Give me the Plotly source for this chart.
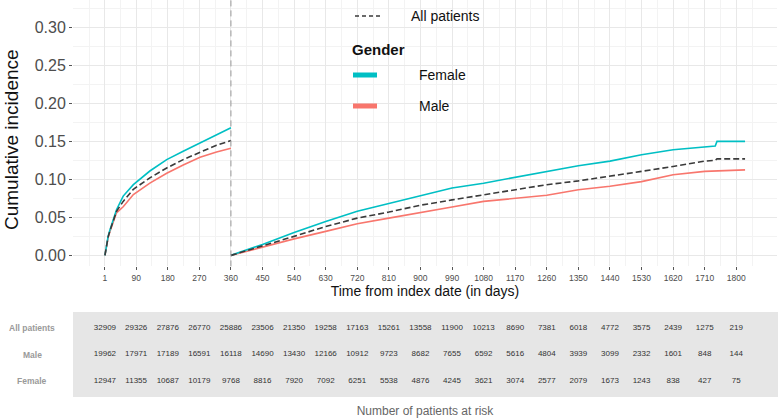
import plotly.graph_objects as go

# ---------------- data ----------------
landmark_day = 360

days_y1 = [1, 5, 10, 15, 25, 34, 53, 82, 129, 177, 224, 272, 319, 360]
female_y1 = [0, 0.014, 0.025, 0.033, 0.048, 0.060, 0.078, 0.093, 0.111, 0.126, 0.137, 0.148, 0.159, 0.168]
all_y1 = [0, 0.013, 0.024, 0.032, 0.046, 0.058, 0.071, 0.087, 0.102, 0.115, 0.126, 0.136, 0.145, 0.151]
male_y1 = [0, 0.013, 0.023, 0.031, 0.045, 0.056, 0.064, 0.080, 0.095, 0.108, 0.119, 0.129, 0.136, 0.141]

days_y2 = [360, 450, 540, 630, 720, 810, 900, 990, 1080, 1170, 1260, 1350, 1440, 1530, 1620, 1710, 1740, 1745, 1800, 1825]
female_y2 = [0, 0.0144, 0.030, 0.0447, 0.058, 0.068, 0.079, 0.0886, 0.095, 0.103, 0.1105, 0.118, 0.124, 0.1325, 0.139, 0.143, 0.144, 0.150, 0.150, 0.150]
all_y2 = [0, 0.0122, 0.025, 0.038, 0.049, 0.057, 0.066, 0.073, 0.080, 0.0865, 0.093, 0.098, 0.104, 0.1105, 0.117, 0.124, 0.125, 0.127, 0.127, 0.127]
male_y2 = [0, 0.0109, 0.0217, 0.0316, 0.0415, 0.049, 0.056, 0.0636, 0.071, 0.075, 0.079, 0.0864, 0.091, 0.097, 0.106, 0.1105, 0.111, 0.112, 0.1125, 0.1125]

x_ticks = [1, 90, 180, 270, 360, 450, 540, 630, 720, 810, 900, 990, 1080, 1170,
           1260, 1350, 1440, 1530, 1620, 1710, 1800]
y_ticks = [0, 0.05, 0.10, 0.15, 0.20, 0.25, 0.30]

risk_rows = ["All patients", "Male", "Female"]
risk_all = [32909, 29326, 27876, 26770, 25886, 23506, 21350, 19258, 17163, 15261, 13558,
            11900, 10213, 8690, 7381, 6018, 4772, 3575, 2439, 1275, 219]
risk_male = [19962, 17971, 17189, 16591, 16118, 14690, 13430, 12166, 10912, 9723, 8682,
             7655, 6592, 5616, 4804, 3939, 3099, 2332, 1601, 848, 144]
risk_female = [12947, 11355, 10687, 10179, 9768, 8816, 7920, 7092, 6251, 5538, 4876,
               4245, 3621, 3074, 2577, 2079, 1673, 1243, 838, 427, 75]

legend_labels = ["All patients", "Female", "Male"]
legend_title = "Gender"

# ---------------- styles ----------------
TEAL = "#00BFC4"
SALMON = "#F8766D"
DARK = "#3a3a3a"
FONT = "Liberation Sans, Arial, Helvetica, sans-serif"
W, H = 778, 418
ML, MR = 73, 1
PW = W - ML - MR


def px_x(x):  # page pixel -> paper x
    return (x - ML) / PW


def px_y(y):  # page pixel -> paper y
    return 1 - y / H


fig = go.Figure()


def add_curve(x, y, color, dash, width):
    fig.add_trace(go.Scatter(x=x, y=y, mode="lines", showlegend=False, hoverinfo="skip",
                             line=dict(color=color, dash=dash, width=width),
                             xaxis="x", yaxis="y"))


add_curve(days_y1, male_y1, SALMON, "solid", 1.6)
add_curve(days_y2, male_y2, SALMON, "solid", 1.6)
add_curve(days_y1, female_y1, TEAL, "solid", 1.6)
add_curve(days_y2, female_y2, TEAL, "solid", 1.6)
add_curve(days_y1, all_y1, DARK, "6px,3px", 1.6)
add_curve(days_y2, all_y2, DARK, "6px,3px", 1.6)

# risk table
for row, vals in zip(risk_rows, [risk_all, risk_male, risk_female]):
    fig.add_trace(go.Scatter(x=x_ticks, y=[row] * len(x_ticks), text=[str(v) for v in vals],
                             mode="text", textfont=dict(size=8, color="#333", family=FONT),
                             showlegend=False, hoverinfo="skip", xaxis="x2", yaxis="y2"))

# landmark line
fig.add_shape(type="line", xref="x", yref="y domain", x0=landmark_day, x1=landmark_day,
              y0=0, y1=1, line=dict(color="#9a9a9a", width=1, dash="6px,4px"))
# table background
fig.add_shape(type="rect", xref="x2 domain", yref="y2 domain", x0=0, x1=1.01, y0=0, y1=1,
              fillcolor="#e6e6e6", line=dict(width=0), layer="below")

for row in risk_rows:
    fig.add_annotation(x=px_x(32), xref="paper", y=row, yref="y2", text=f"<b>{row}</b>",
                       showarrow=False, xanchor="center",
                       font=dict(size=8.5, color="#9a9a9a", family=FONT))

# y axis title
fig.add_annotation(x=px_x(11), xref="paper", y=px_y(140), yref="paper",
                   text="Cumulative incidence", textangle=-90, showarrow=False,
                   xanchor="center", yanchor="middle",
                   font=dict(size=19, color="#111", family=FONT))

# manual legend (ggplot style)
fig.add_shape(type="line", xref="paper", yref="paper", x0=px_x(355), x1=px_x(382),
              y0=px_y(16), y1=px_y(16), line=dict(color=DARK, width=1.3, dash="4px,3px"))
fig.add_annotation(x=px_x(409), xref="paper", y=px_y(16), yref="paper", text=legend_labels[0],
                   showarrow=False, xanchor="left", yanchor="middle",
                   font=dict(size=14, color="#111", family=FONT))
fig.add_annotation(x=px_x(350), xref="paper", y=px_y(50), yref="paper", text=f"<b>{legend_title}</b>",
                   showarrow=False, xanchor="left", yanchor="middle",
                   font=dict(size=15, color="#111", family=FONT))
for lbl, col, yy in [(legend_labels[1], TEAL, 75), (legend_labels[2], SALMON, 106)]:
    fig.add_shape(type="line", xref="paper", yref="paper", x0=px_x(353), x1=px_x(377),
                  y0=px_y(yy), y1=px_y(yy), line=dict(color=col, width=5))
    fig.add_annotation(x=px_x(417), xref="paper", y=px_y(yy), yref="paper", text=lbl,
                       showarrow=False, xanchor="left", yanchor="middle",
                       font=dict(size=14, color="#111", family=FONT))

minor_x = [v + 45 for v in x_ticks[1:]] + [45.5, -44, 1845]

fig.update_layout(
    width=W, height=H,
    margin=dict(l=ML, r=MR, t=0, b=0),
    paper_bgcolor="white", plot_bgcolor="white",
    font=dict(family=FONT, color="#222"),
    showlegend=False,
    xaxis=dict(domain=[0, 1], range=[-90, 1916], tickvals=x_ticks,
               ticktext=[str(v) for v in x_ticks],
               tickfont=dict(size=8.5, color="#4d4d4d"),
               ticks="outside", ticklen=3, tickcolor="#555", tickwidth=1,
               showgrid=True, gridcolor="#e8e8e8", gridwidth=1,
               minor=dict(tickvals=minor_x, showgrid=True, gridcolor="#f3f3f3", gridwidth=0.6, ticks=""),
               zeroline=False, showline=False, anchor="y",
               title=dict(text="Time from index date (in days)", font=dict(size=14, color="#111"),
                          standoff=4)),
    yaxis=dict(domain=[0.3627, 1], range=[-0.0145, 0.336], tickvals=y_ticks, tickformat=".2f",
               tickfont=dict(size=16, color="#4d4d4d"),
               ticks="outside", ticklen=3, tickcolor="#555", tickwidth=1,
               showgrid=True, gridcolor="#e8e8e8", gridwidth=1,
               minor=dict(dtick=0.025, tick0=0, showgrid=True, gridcolor="#f3f3f3", gridwidth=0.6, ticks=""),
               zeroline=False, showline=False, anchor="x"),
    xaxis2=dict(domain=[0, 1], matches="x", anchor="y2", showticklabels=False, ticks="",
                showgrid=False, zeroline=False, showline=False,
                title=dict(text="Number of patients at risk", font=dict(size=12, color="#666"),
                           standoff=11)),
    yaxis2=dict(domain=[0.0502, 0.2536], anchor="x2", type="category",
                categoryarray=risk_rows[::-1], categoryorder="array", range=[-0.6, 2.6],
                showticklabels=False, ticks="", showgrid=False, zeroline=False, showline=False),
)

fig.write_html("out.html",
               config={"displayModeBar": False},
               post_script="document.body.style.margin='0px';document.body.style.overflow='hidden';")
